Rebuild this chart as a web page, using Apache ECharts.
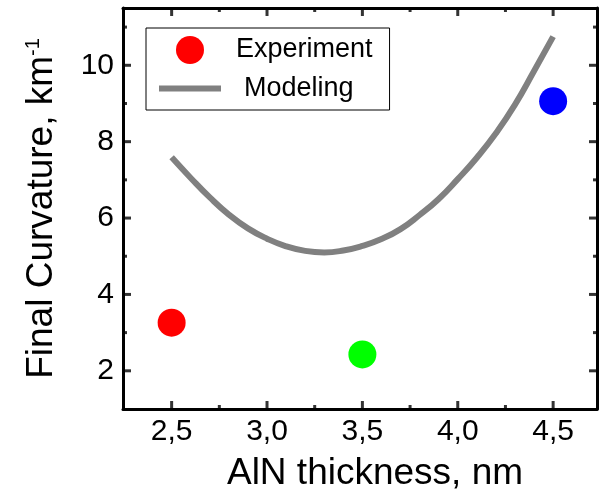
<!DOCTYPE html>
<html>
<head>
<meta charset="utf-8">
<script src="https://cdn.jsdelivr.net/npm/echarts@6/dist/echarts.min.js"></script>
<style>
  html, body { margin: 0; padding: 0; background: #fff; }
  #chart { width: 602px; height: 497px; }
</style>
</head>
<body>
<div id="chart"></div>
<script>
// Measured curvature for three AlN thicknesses
const expThickness = [2.5, 3.5, 4.5];
const expCurvature = [3.26, 2.43, 9.06];
const expColors = ['#ff0000', '#00ff00', '#0000ff'];

// Modeled curvature vs thickness
const modelThickness = [2.5, 2.6, 2.7, 2.8, 2.9, 3.0, 3.1, 3.2, 3.3, 3.4, 3.5,
                        3.6, 3.7, 3.8, 3.9, 4.0, 4.1, 4.2, 4.3, 4.4, 4.5];
const modelCurvature = [7.59, 7.05, 6.54, 6.09, 5.73, 5.46, 5.26, 5.14, 5.10, 5.15, 5.27,
                        5.45, 5.71, 6.08, 6.50, 7.02, 7.58, 8.22, 8.97, 9.85, 10.75];

// Axis tick values
const xMajor = [2.5, 3.0, 3.5, 4.0, 4.5];
const xMinor = [2.75, 3.25, 3.75, 4.25];
const yMajor = [2, 4, 6, 8, 10];
const yMinor = [3, 5, 7, 9, 11];

const FONT = 'Liberation Sans, Arial, Helvetica, sans-serif';
const X_MIN = 2.245, X_MAX = 4.73;
const Y_MIN = 1.0, Y_MAX = 11.5;
const MAJOR_LEN = 8, MINOR_LEN = 4, TICK_W = 3;

function frameAxis(kind, pos, showLabel, extra) {
  const isX = kind === 'x';
  return Object.assign({
    type: 'value', position: pos,
    min: isX ? X_MIN : Y_MIN, max: isX ? X_MAX : Y_MAX,
    axisLine: { show: true, onZero: false, lineStyle: { color: '#000', width: 3 } },
    axisTick: { show: false },
    axisLabel: {
      show: showLabel, customValues: isX ? xMajor : yMajor,
      margin: isX ? 8 : 9, color: '#000', fontSize: 30, fontFamily: FONT,
      formatter: isX ? (v => v.toFixed(1).replace('.', ',')) : (v => String(v))
    },
    splitLine: { show: false }
  }, extra || {});
}

// Inward frame ticks, drawn as small bars anchored on the frame edges
function tickSeries(name, points, size, offset) {
  return {
    name: name, type: 'scatter', xAxisIndex: 0, yAxisIndex: 0,
    data: points, symbol: 'rect', symbolSize: size, symbolOffset: offset,
    itemStyle: { color: '#000' }, silent: true, clip: false, z: 5
  };
}
const tickMarks = [
  tickSeries('xMajorBottom', xMajor.map(v => [v, Y_MIN]), [TICK_W, MAJOR_LEN], [0, -MAJOR_LEN / 2]),
  tickSeries('xMinorBottom', xMinor.map(v => [v, Y_MIN]), [TICK_W, MINOR_LEN], [0, -MINOR_LEN / 2]),
  tickSeries('xMajorTop', xMajor.map(v => [v, Y_MAX]), [TICK_W, MAJOR_LEN], [0, MAJOR_LEN / 2]),
  tickSeries('xMinorTop', xMinor.map(v => [v, Y_MAX]), [TICK_W, MINOR_LEN], [0, MINOR_LEN / 2]),
  tickSeries('yMajorLeft', yMajor.map(v => [X_MIN, v]), [MAJOR_LEN, TICK_W], [MAJOR_LEN / 2, 0]),
  tickSeries('yMinorLeft', yMinor.map(v => [X_MIN, v]), [MINOR_LEN, TICK_W], [MINOR_LEN / 2, 0]),
  tickSeries('yMajorRight', yMajor.map(v => [X_MAX, v]), [MAJOR_LEN, TICK_W], [-MAJOR_LEN / 2, 0]),
  tickSeries('yMinorRight', yMinor.map(v => [X_MAX, v]), [MINOR_LEN, TICK_W], [-MINOR_LEN / 2, 0])
];

const chart = echarts.init(document.getElementById('chart'));

chart.setOption({
  animation: false,
  grid: { left: 123, right: 5, top: 8, bottom: 88 },
  xAxis: [
    frameAxis('x', 'bottom', true, {
      name: 'AlN thickness, nm', nameLocation: 'middle', nameGap: 46,
      nameTextStyle: { color: '#000', fontSize: 37, fontFamily: FONT, padding: [0, 0, 0, 30] }
    }),
    frameAxis('x', 'top', false)
  ],
  yAxis: [
    frameAxis('y', 'left', true, {
      name: 'Final Curvature, km{sup|-1}', nameLocation: 'middle', nameGap: 62,
      nameTextStyle: {
        color: '#000', fontSize: 37, fontFamily: FONT,
        rich: { sup: { fontSize: 20, fontFamily: FONT, color: '#000', verticalAlign: 'top', padding: [0, 0, 18, 0] } }
      }
    }),
    frameAxis('y', 'right', false)
  ],
  legend: {
    orient: 'vertical', left: 146, top: 28,
    padding: [8, 17, 8, 13], itemGap: 11,
    itemWidth: 62, itemHeight: 28,
    borderColor: '#000', borderWidth: 1, borderRadius: 0,
    textStyle: { color: '#000', fontSize: 27, fontFamily: FONT },
    data: [
      { name: 'Experiment', icon: 'circle', itemStyle: { color: '#ff0000' },
        textStyle: { padding: [0, 0, 0, 10] } },
      { name: 'Modeling', icon: 'path://M0,0H62V6H0Z', itemStyle: { color: '#808080' },
        textStyle: { padding: [0, 0, 0, 18] } }
    ]
  },
  series: [
    {
      name: 'Modeling', type: 'line', xAxisIndex: 0, yAxisIndex: 0,
      data: modelThickness.map((x, i) => [x, modelCurvature[i]]),
      smooth: true, symbol: 'none',
      lineStyle: { color: '#808080', width: 6 },
      itemStyle: { color: '#808080' },
      z: 2
    },
    {
      name: 'Experiment', type: 'scatter', xAxisIndex: 0, yAxisIndex: 0,
      data: expThickness.map((x, i) => ({
        value: [x, expCurvature[i]],
        itemStyle: { color: expColors[i] }
      })),
      symbol: 'circle', symbolSize: 28,
      itemStyle: { color: '#ff0000', opacity: 1 },
      z: 3
    }
  ].concat(tickMarks)
});
</script>
</body>
</html>
